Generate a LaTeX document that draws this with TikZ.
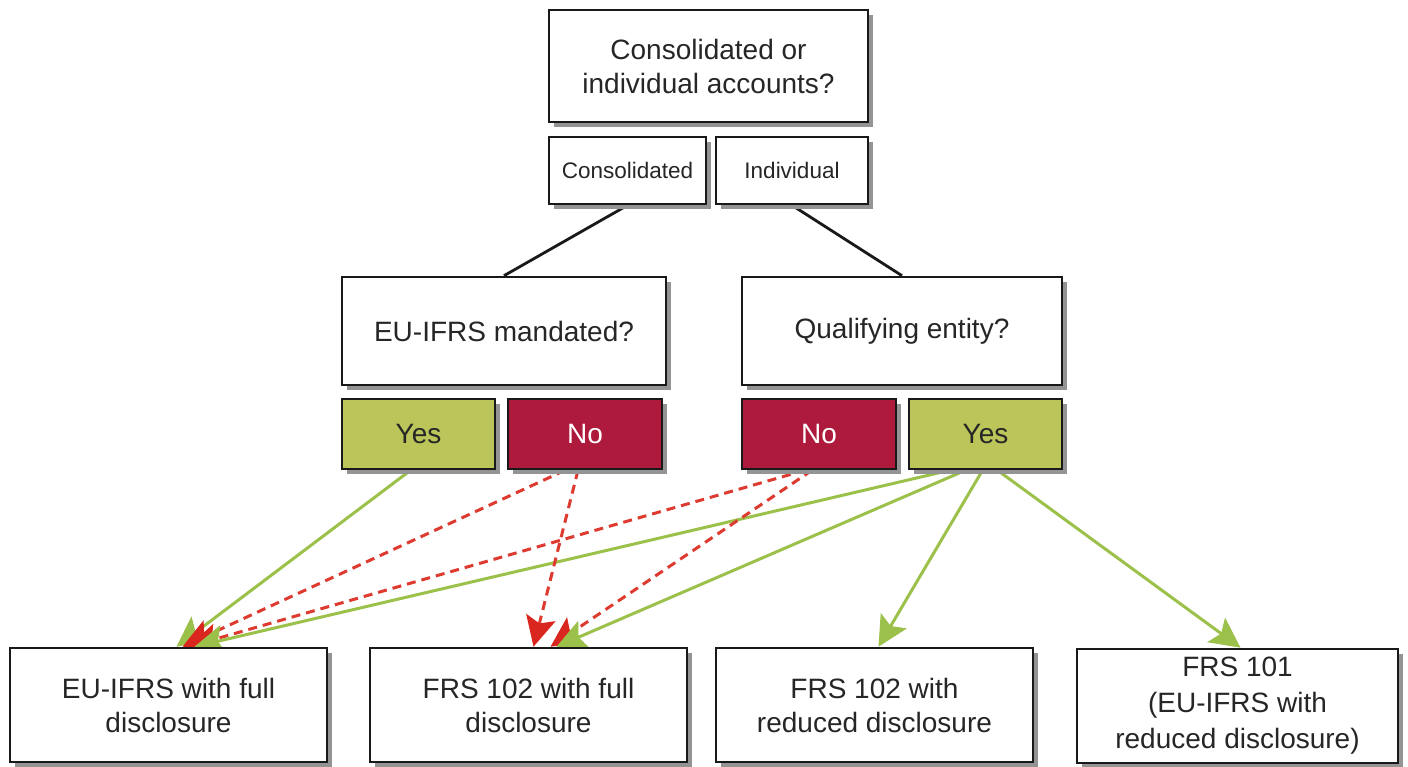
\documentclass[tikz,border=0pt]{standalone}
\usepackage{fontspec}
\setmainfont{Liberation Sans}
\usetikzlibrary{arrows.meta,shadows,backgrounds}
\definecolor{yesfill}{HTML}{BCC55A}
\definecolor{nofill}{HTML}{AE1A3B}
\definecolor{yesline}{HTML}{9CC14A}
\definecolor{noline}{HTML}{DD3A30}
\definecolor{nohead}{HTML}{D9261F}
\definecolor{shade}{HTML}{949494}
\begin{document}
\begin{tikzpicture}[x=1pt,y=-1pt,
  box/.style={draw=black!90, line width=2.6pt, fill=white, align=center,
    inner sep=0pt, text=black!85,
    general shadow={fill=shade, shadow xshift=5pt, shadow yshift=-5pt},
    font=\fontsize{28}{34}\selectfont},
  smallbox/.style={box, font=\fontsize{22.5}{26}\selectfont},
  yesbox/.style={box, fill=yesfill, minimum width=153pt, minimum height=70pt},
  nobox/.style={box, fill=nofill, text=white, minimum width=154pt, minimum height=70pt},
  outbox/.style={box, minimum width=317pt, minimum height=114pt},
  link/.style={draw=black!90, line width=2.8pt},
  yesarrow/.style={draw=yesline, line width=3pt,
    -{Stealth[length=30pt,width=30pt,inset=6pt]}},
  noarrow/.style={draw=noline, line width=3pt, dash pattern=on 9pt off 6pt,
    -{Stealth[length=30pt,width=30pt,inset=6pt,fill=nohead,color=nohead]}}
]
\useasboundingbox (0,0) rectangle (1408,766);

% question boxes
\node[box, minimum width=319pt, minimum height=112pt] (top) at (708.5,66)
  {Consolidated or\\individual accounts?};
\node[smallbox, minimum width=157pt, minimum height=67pt] (cons) at (627.5,170.5) {Consolidated};
\node[smallbox, minimum width=152pt, minimum height=67pt] (indiv) at (792,170.5) {Individual};
\node[box, minimum width=324pt, minimum height=108pt] (mand) at (504,331) {EU-IFRS mandated?};
\node[box, minimum width=320pt, minimum height=108pt] (qual) at (902,331) {Qualifying entity?};

% answers
\node[yesbox] (yesL) at (418.5,434) {Yes};
\node[nobox]  (noL)  at (585,434)   {No};
\node[nobox]  (noR)  at (819,434)   {No};
\node[yesbox] (yesR) at (985.5,434) {Yes};

% outcomes
\node[outbox] (out1) at (168.5,705) {EU-IFRS with full\\disclosure};
\node[outbox] (out2) at (528.5,705) {FRS 102 with full\\disclosure};
\node[outbox] (out3) at (874.5,705) {FRS 102 with\\reduced disclosure};
\node[outbox, minimum width=321pt, font=\fontsize{28}{36}\selectfont] (out4) at (1237.5,706)
  {FRS 101\\(EU-IFRS with\\reduced disclosure)};

\begin{scope}[on background layer]
  \draw[link] (cons.south) -- (mand.north);
  \draw[link] (indiv.south) -- (qual.north);

  % routes to full-disclosure EU-IFRS
  \draw[yesarrow] ([xshift=-8pt]yesL.south) -- ([xshift=8pt]out1.north);
  \draw[noarrow] ([xshift=-20pt]noL.south) -- ([xshift=14pt]out1.north);
  \draw[noarrow] ([xshift=-14pt]noR.south) -- ([xshift=20pt]out1.north);
  \draw[yesarrow] ([xshift=-36pt]yesR.south) -- ([xshift=26pt]out1.north);

  % routes to full-disclosure FRS 102
  \draw[noarrow] ([xshift=-7pt]noL.south) -- ([xshift=5pt]out2.north);
  \draw[noarrow] ([xshift=-7pt]noR.south) -- ([xshift=22pt]out2.north);
  \draw[yesarrow] ([xshift=-20pt]yesR.south) -- ([xshift=28pt]out2.north);

  % reduced disclosure routes
  \draw[yesarrow] ([xshift=-3pt]yesR.south) -- ([xshift=4pt]out3.north);
  \draw[yesarrow] ([xshift=12pt]yesR.south) -- ([xshift=3pt]out4.north);
\end{scope}
\end{tikzpicture}
\end{document}
